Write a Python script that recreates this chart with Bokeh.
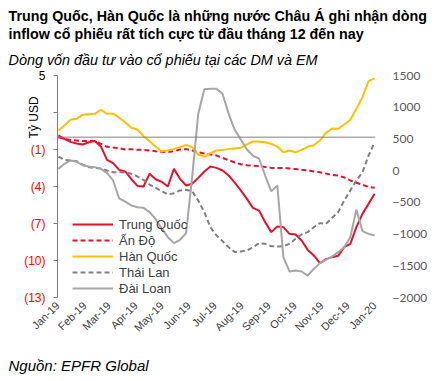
import math
import pandas as pd
from bokeh.plotting import figure
from bokeh.models import (Title, LinearAxis, Range1d, FixedTicker, Span, Label,
                          Legend, LegendItem, DatetimeTickFormatter)
from bokeh.embed import file_html
from bokeh.resources import INLINE

# ---------------- data ----------------
dates = pd.date_range("2019-01-02", periods=53, freq="7D")

trung_quoc = [0.14, -0.14, -0.38, -0.51, -0.59, -0.41, -0.32, -0.76, -1.84, -2.11,
              -2.65, -2.78, -3.41, -3.95, -4.00, -2.97, -3.41, -3.62, -4.00, -2.57,
              -3.38, -3.92, -3.78, -3.30, -2.78, -2.38, -2.49, -2.70, -3.11, -3.68,
              -4.32, -5.00, -5.73, -5.95, -6.89, -7.70, -7.24, -7.30, -7.84, -7.89,
              -8.38, -9.14, -9.59, -10.22, -9.89, -9.73, -9.62, -8.92, -8.65, -7.30,
              -6.22, -5.41, -4.59]
an_do = [0.00, -0.14, -0.22, -0.27, -0.32, -0.30, -0.32, -0.54, -0.78, -0.84,
         -0.89, -1.00, -0.97, -1.03, -1.03, -1.08, -1.14, -1.19, -1.22, -1.14,
         -1.00, -0.97, -1.08, -1.22, -1.32, -1.41, -1.49, -1.68, -1.86, -2.05,
         -2.19, -2.27, -2.32, -2.35, -2.41, -2.49, -2.51, -2.49, -2.54, -2.59,
         -2.65, -2.70, -2.78, -2.84, -2.95, -3.05, -3.11, -3.27, -3.51, -3.70,
         -3.86, -4.03, -4.11]
han_quoc = [0.54, 0.95, 1.41, 1.49, 1.81, 1.86, 1.89, 2.22, 1.89, 1.92,
            1.57, 1.19, 0.76, 0.62, 0.08, -0.32, -0.78, -1.14, -1.08, -0.95,
            -0.81, -0.62, -0.81, -1.43, -1.57, -1.30, -1.08, -1.03, -0.97, -0.92,
            -0.86, -0.59, -0.35, -0.35, -0.41, -0.54, -0.76, -1.22, -1.08, -1.22,
            -1.03, -0.78, -0.65, -0.27, 0.35, 0.70, 0.68, 1.03, 1.41, 2.30,
            3.24, 4.54, 4.76]
thai_lan = [-1.57, -1.84, -1.89, -1.95, -2.22, -2.43, -2.49, -2.54, -2.70, -2.84,
            -2.84, -2.86, -2.97, -3.19, -3.46, -3.84, -4.11, -4.38, -4.65, -4.54,
            -4.32, -4.27, -4.38, -5.14, -6.08, -7.30, -7.97, -8.43, -8.92, -9.32,
            -9.27, -9.19, -8.92, -8.59, -8.65, -8.84, -8.86, -8.84, -8.65, -8.24,
            -7.89, -7.70, -7.30, -6.97, -7.03, -6.54, -6.08, -5.14, -4.32, -3.51,
            -2.84, -1.49, -0.41]
dai_loan = [-2.57, -2.16, -1.89, -2.00, -2.27, -2.38, -2.43, -2.57, -2.92, -3.51,
            -4.97, -5.22, -5.54, -5.68, -5.73, -6.08, -6.65, -7.41, -8.11, -8.59,
            -8.32, -7.78, -3.24, 1.89, 3.89, 3.92, 3.92, 3.51, 1.89, 0.59,
            -0.19, -1.00, -1.51, -1.73, -3.11, -4.38, -3.92, -9.73, -10.89, -10.81,
            -10.89, -11.22, -10.68, -10.22, -9.95, -9.68, -9.32, -8.92, -8.11, -5.89,
            -7.62, -7.84, -7.97]

series_names = ["Trung Quốc", "Ấn Độ", "Hàn Quốc", "Thái Lan", "Đài Loan"]
left_ticks = [5, 2, -1, -4, -7, -10, -13]
right_ticks = [1500, 1000, 500, 0, -500, -1000, -1500, -2000]
month_ticks = pd.date_range("2019-01-01", "2020-01-01", freq="MS")

title_line1 = "Trung Quốc, Hàn Quốc là những nước Châu Á ghi nhận dòng"
title_line2 = "inflow cổ phiếu rất tích cực từ đầu tháng 12 đến nay"
subtitle = "Dòng vốn đầu tư vào cổ phiếu tại các DM và EM"
source = "Nguồn: EPFR Global"
y_title = "Tỷ USD"

# ---------------- figure ----------------
FONT = "Liberation Sans"
x_start = pd.Timestamp("2019-01-01")
x_end = pd.Timestamp("2020-01-02")

p = figure(frame_width=318, frame_height=222, x_axis_type="datetime", title=None,
           x_range=Range1d(x_start, x_end), y_range=Range1d(-13, 5),
           output_backend="svg", toolbar_location=None,
           min_border_left=57, min_border_right=51, min_border_top=75,
           min_border_bottom=76)
p.outline_line_color = None
p.xgrid.visible = False
p.ygrid.visible = False
p.background_fill_color = "white"
p.border_fill_color = "white"

# titles (closest to frame first)
for txt, size, style, so in [(subtitle, "14.4px", "italic", 15),
                             (title_line2, "14.3px", "bold", 1),
                             (title_line1, "14.3px", "bold", -1)]:
    t = Title(text=txt, align="left", offset=-49, text_font=FONT,
              text_font_size=size, text_font_style=style, text_color="#000000",
              standoff=so)
    p.add_layout(t, "above")

src = Title(text=source, align="left", offset=-49, text_font=FONT,
            text_font_size="15px", text_font_style="italic",
            text_color="#000000", standoff=28)
p.add_layout(src, "below")

# left axis
ya = p.yaxis[0]
ya.ticker = FixedTicker(ticks=left_ticks)
ya.major_label_overrides = {t: ("" if t >= 0 else f"({abs(t)})") for t in left_ticks}
ya.major_label_text_color = "#FF0000"
ya.major_label_text_font = FONT
ya.major_label_text_font_size = "12px"
ya.axis_line_color = "#808080"
ya.major_tick_line_color = "#808080"
ya.major_tick_out = 4
ya.major_tick_in = 0
ya.minor_tick_line_color = None
ya.major_label_standoff = 8

# black positive label and rotated unit label, placed in the left side panel
x0_ms = x_start.timestamp() * 1000
p.add_layout(Label(x=x0_ms, y=left_ticks[0], x_offset=-12, text=str(left_ticks[0]),
                   text_align="right", text_baseline="middle",
                   text_font=FONT, text_font_size="12px", text_color="#000000"),
             "left")
p.add_layout(Label(x=x0_ms, y=1.6, x_offset=-24, text=y_title, angle=math.pi / 2,
                   text_align="center", text_baseline="middle",
                   text_font=FONT, text_font_size="12px", text_color="#000000"),
             "left")

# right axis
p.extra_y_ranges = {"usd": Range1d(-2000, 1500)}
ra = LinearAxis(y_range_name="usd", ticker=FixedTicker(ticks=right_ticks))
ra.axis_line_color = None
ra.major_tick_line_color = None
ra.minor_tick_line_color = None
ra.major_label_text_font = "Lato"
ra.major_label_text_font_size = "12px"
ra.major_label_text_color = "#595959"
ra.major_label_standoff = 11
p.add_layout(ra, "right")

# x axis
xa = p.xaxis[0]
xa.ticker = FixedTicker(ticks=[d.timestamp() * 1000 for d in month_ticks])
xa.formatter = DatetimeTickFormatter(days="%b-%y", months="%b-%y", years="%b-%y")
xa.major_label_orientation = math.pi / 4
xa.axis_line_color = None
xa.major_tick_line_color = None
xa.minor_tick_line_color = None
xa.major_tick_out = 0
xa.major_label_standoff = 6
xa.major_label_text_font = FONT
xa.major_label_text_font_size = "11px"
xa.major_label_text_color = "#404040"

p.add_layout(Span(location=0, dimension="width", line_color="#808080", line_width=1))

styles = [
    (trung_quoc, "#E8112D", "solid"),
    (an_do, "#E8112D", "5 3"),
    (han_quoc, "#FFC000", "solid"),
    (thai_lan, "#808080", "5 3"),
    (dai_loan, "#A6A6A6", "solid"),
]
items = []
for name, (vals, col, dash) in zip(series_names, styles):
    r = p.line(dates, vals, line_color=col, line_width=2, line_dash=dash)
    items.append(LegendItem(label=name, renderers=[r]))

leg = Legend(items=items, location=(15, 1), glyph_width=41, glyph_height=16,
             label_height=16, label_standoff=6, spacing=0, padding=0, margin=0,
             border_line_color=None, background_fill_alpha=0,
             label_text_font=FONT, label_text_font_size="13px",
             label_text_color="#404040")
p.add_layout(leg)

open("out.html", "w").write(file_html(p, INLINE))
